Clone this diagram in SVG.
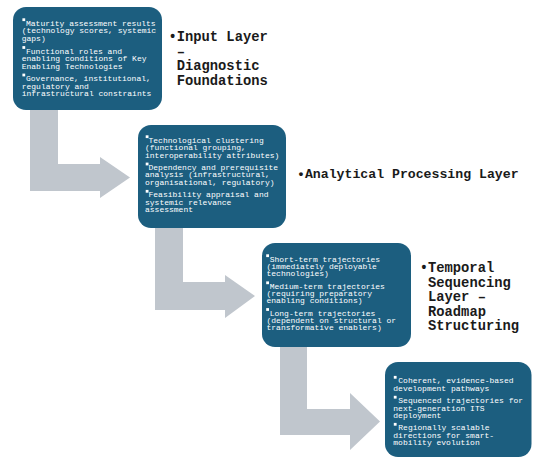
<svg xmlns="http://www.w3.org/2000/svg" width="533" height="459" viewBox="0 0 533 459">
<style>
.box{fill:#1c5e7f;}
.arr{fill:#c0c6cd;}
.t{font-family:"Liberation Mono","DejaVu Sans Mono",monospace;font-size:8px;fill:#ffffff;}
.lbl{font-family:"Liberation Mono","DejaVu Sans Mono",monospace;font-size:13.8px;font-weight:bold;fill:#1a1a1a;}
.bul{fill:#ffffff;}
</style>
<rect width="533" height="459" fill="#ffffff"/>
<g id="connectors">
<polygon class="arr" points="30,110 58,110 58,164 100,164 100,157 130,177.5 100,198 100,191 30,191"/>
<polygon class="arr" points="155,228 183,228 183,282 225,282 225,275 255,296 225,318 225,310 155,310"/>
<polygon class="arr" points="280,346 307,346 307,409 350,409 350,393 380,421.5 350,450 350,435 280,435"/>
</g>
<g id="node1">
<rect class="box" x="13" y="7" width="149" height="103" rx="13"/>
<rect class="bul" x="22.4" y="18.3" width="2.8" height="2.8"/>
<text class="t" x="26" y="25.7">Maturity assessment results</text>
<text class="t" x="21.7" y="33.3">(technology scores, systemic</text>
<text class="t" x="21.7" y="40.9">gaps)</text>
<rect class="bul" x="22.4" y="46.1" width="2.8" height="2.8"/>
<text class="t" x="26" y="53.5">Functional roles and</text>
<text class="t" x="21.7" y="61.1">enabling conditions of Key</text>
<text class="t" x="21.7" y="68.7">Enabling Technologies</text>
<rect class="bul" x="22.4" y="73.6" width="2.8" height="2.8"/>
<text class="t" x="26" y="81">Governance, institutional,</text>
<text class="t" x="21.7" y="88.6">regulatory and</text>
<text class="t" x="21.7" y="96.2">infrastructural constraints</text>
</g>
<g id="label1">
<text class="lbl" x="168.4" y="41">•Input Layer</text>
<text class="lbl" x="176.7" y="55.5">–</text>
<text class="lbl" x="176.7" y="70">Diagnostic</text>
<text class="lbl" x="176.7" y="84.5">Foundations</text>
</g>
<g id="node2">
<rect class="box" x="138" y="125" width="148" height="103" rx="13"/>
<rect class="bul" x="145.7" y="135.3" width="2.8" height="2.8"/>
<text class="t" x="148.5" y="142.7">Technological clustering</text>
<text class="t" x="145" y="150.1">(functional grouping,</text>
<text class="t" x="145" y="157.5">interoperability attributes)</text>
<rect class="bul" x="145.7" y="162.6" width="2.8" height="2.8"/>
<text class="t" x="148.5" y="170">Dependency and prerequisite</text>
<text class="t" x="145" y="177.4">analysis (infrastructural,</text>
<text class="t" x="145" y="184.8">organisational, regulatory)</text>
<rect class="bul" x="145.7" y="189.9" width="2.8" height="2.8"/>
<text class="t" x="148.5" y="197.3">Feasibility appraisal and</text>
<text class="t" x="145" y="204.7">systemic relevance</text>
<text class="t" x="145" y="212.1">assessment</text>
</g>
<g id="label2">
<text class="lbl" x="297" y="178" style="font-size:13.2px">•Analytical Processing Layer</text>
</g>
<g id="node3">
<rect class="box" x="262" y="243" width="149" height="104" rx="13"/>
<rect class="bul" x="266.2" y="254.3" width="2.8" height="2.8"/>
<text class="t" x="269.7" y="261.7">Short-term trajectories</text>
<text class="t" x="266.5" y="269">(immediately deployable</text>
<text class="t" x="266.5" y="276.3">technologies)</text>
<rect class="bul" x="266.2" y="281.4" width="2.8" height="2.8"/>
<text class="t" x="269.7" y="288.8">Medium-term trajectories</text>
<text class="t" x="266.5" y="296.1">(requiring preparatory</text>
<text class="t" x="266.5" y="303.4">enabling conditions)</text>
<rect class="bul" x="266.2" y="308.1" width="2.8" height="2.8"/>
<text class="t" x="269.7" y="315.5">Long-term trajectories</text>
<text class="t" x="266.5" y="322.8">(dependent on structural or</text>
<text class="t" x="266.5" y="330.1">transformative enablers)</text>
</g>
<g id="label3">
<text class="lbl" x="419.7" y="272">•Temporal</text>
<text class="lbl" x="428" y="286.5">Sequencing</text>
<text class="lbl" x="428" y="301">Layer –</text>
<text class="lbl" x="428" y="315.5">Roadmap</text>
<text class="lbl" x="428" y="330">Structuring</text>
</g>
<g id="node4">
<rect class="box" x="385" y="362" width="146.5" height="95" rx="13"/>
<rect class="bul" x="393.8" y="375.9" width="2.8" height="2.8"/>
<text class="t" x="398.3" y="383.3">Coherent, evidence-based</text>
<text class="t" x="393.3" y="390.6">development pathways</text>
<rect class="bul" x="393.8" y="395.8" width="2.8" height="2.8"/>
<text class="t" x="398.3" y="403.2">Sequenced trajectories for</text>
<text class="t" x="393.3" y="410.5">next-generation ITS</text>
<text class="t" x="393.3" y="417.8">deployment</text>
<rect class="bul" x="393.8" y="422.9" width="2.8" height="2.8"/>
<text class="t" x="398.3" y="430.3">Regionally scalable</text>
<text class="t" x="393.3" y="437.6">directions for smart-</text>
<text class="t" x="393.3" y="444.9">mobility evolution</text>
</g>
</svg>
